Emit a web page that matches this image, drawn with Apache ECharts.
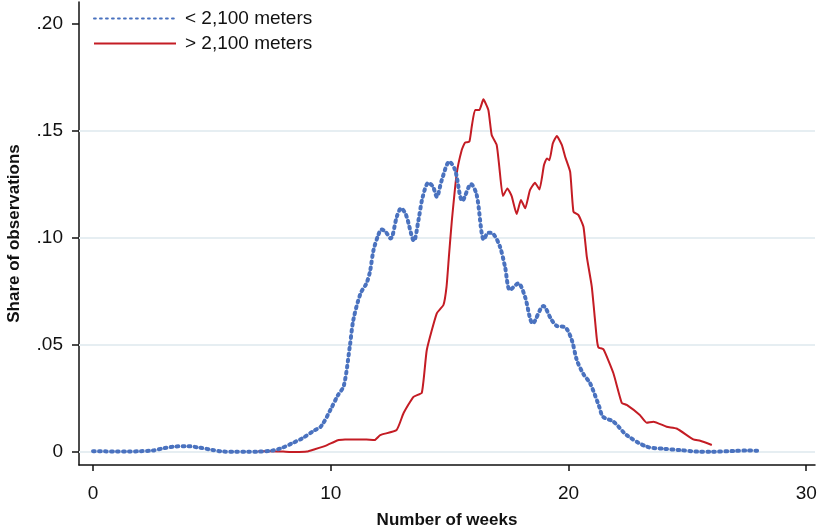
<!DOCTYPE html>
<html>
<head>
<meta charset="utf-8">
<script src="https://cdn.jsdelivr.net/npm/echarts@6/dist/echarts.min.js"></script>
<style>
  html, body { margin: 0; padding: 0; background: #fff; }
  #chart { width: 819px; height: 531px; }
</style>
</head>
<body>
<div id="chart"></div>
<script>
// share of observations by week
const lowWeeks = [0, 0.5, 1, 1.5, 2, 2.5, 3, 3.5, 4, 4.5, 5, 5.5, 6, 6.5, 7, 7.5, 7.9, 8.4, 8.8, 9.3, 9.6, 10.0, 10.3, 10.55, 10.8, 10.95, 11.25, 11.5, 11.65, 11.8, 12.0, 12.13, 12.3, 12.52, 12.78, 12.96, 13.17, 13.5, 13.69, 13.87, 14.11, 14.3, 14.46, 14.67, 14.99, 15.23, 15.54, 15.9, 16.14, 16.44, 16.63, 16.84, 17.12, 17.33, 17.54, 17.89, 18.17, 18.5, 18.94, 19.29, 19.51, 19.86, 20.14, 20.35, 20.63, 20.91, 21.3, 21.45, 21.89, 22.45, 23.29, 24.0, 24.69, 25.4, 26.0, 27.0, 27.5, 28.0];
const lowShare = [0.0004, 0.0003, 0.0002, 0.0002, 0.0004, 0.0007, 0.0018, 0.0026, 0.0027, 0.0020, 0.0010, 0.0002, 0.0001, 0.0001, 0.0002, 0.0006, 0.0017, 0.0042, 0.0064, 0.0100, 0.0121, 0.0200, 0.0265, 0.0310, 0.0492, 0.0617, 0.0740, 0.0788, 0.0843, 0.0944, 0.1014, 0.1040, 0.1030, 0.0998, 0.1100, 0.1139, 0.1107, 0.0987, 0.1084, 0.1193, 0.1258, 0.1240, 0.1193, 0.1271, 0.1357, 0.1318, 0.1174, 0.1252, 0.1201, 0.0993, 0.1025, 0.1019, 0.0959, 0.0866, 0.0757, 0.0788, 0.0726, 0.0601, 0.0682, 0.0617, 0.0589, 0.0583, 0.0523, 0.0430, 0.0364, 0.0321, 0.0210, 0.0165, 0.0142, 0.0079, 0.0025, 0.0015, 0.0009, 0.0002, 0.0001, 0.0005, 0.0007, 0.0006];

const highWeeks = [6.95, 7.5, 8.0, 8.5, 9.0, 9.3, 9.8, 10.3, 10.6, 11.0, 11.5, 11.85, 12.08, 12.77, 13.06, 13.48, 13.83, 14.04, 14.46, 14.74, 14.87, 14.97, 15.09, 15.3, 15.51, 15.65, 15.83, 15.93, 16.07, 16.25, 16.42, 16.63, 16.77, 16.98, 17.09, 17.24, 17.43, 17.61, 17.82, 18.0, 18.18, 18.38, 18.59, 18.78, 18.97, 19.09, 19.2, 19.34, 19.51, 19.72, 19.86, 20.07, 20.21, 20.42, 20.63, 20.77, 20.98, 21.19, 21.26, 21.47, 21.89, 22.24, 22.45, 23.0, 23.29, 23.57, 24.13, 24.55, 25.25, 25.54, 26.03];
const highShare = [0.0003, 0.0004, 0.0002, 0.0000, 0.0002, 0.0012, 0.0030, 0.0055, 0.0058, 0.0059, 0.0058, 0.0056, 0.0079, 0.0103, 0.0181, 0.0258, 0.0277, 0.0477, 0.0648, 0.0687, 0.0772, 0.0913, 0.1076, 0.1302, 0.1411, 0.1446, 0.1450, 0.1520, 0.1598, 0.1598, 0.1648, 0.1598, 0.1481, 0.1435, 0.1333, 0.1196, 0.1232, 0.1196, 0.1112, 0.1178, 0.1139, 0.1224, 0.1258, 0.1227, 0.1341, 0.1372, 0.1364, 0.1442, 0.1477, 0.1435, 0.1380, 0.1310, 0.1123, 0.1107, 0.1053, 0.0913, 0.0773, 0.0531, 0.0489, 0.0480, 0.0368, 0.0230, 0.0220, 0.0173, 0.0137, 0.0142, 0.0118, 0.0110, 0.0059, 0.0053, 0.0033];

const xTicks = [0, 10, 20, 30];
const yTicks = [0, 0.05, 0.10, 0.15, 0.20];
const gridValues = [0, 0.05, 0.10, 0.15];
const seriesNames = ['< 2,100 meters', '> 2,100 meters'];

const font = '"Liberation Sans Narrow", "Liberation Sans", Arial, sans-serif';

const pairs = (xs, ys) => xs.map((x, i) => [x, ys[i]]);
const fmtY = v => (v === 0 ? '0' : '.' + Math.round(v * 100).toString().padStart(2, '0'));

const chart = echarts.init(document.getElementById('chart'));
chart.setOption({
  animation: false,
  backgroundColor: '#fff',
  grid: { left: 79, right: 4, top: 2, bottom: 66, outerBoundsMode: 'none', containLabel: false },
  legend: {
    left: 88,
    top: 4,
    orient: 'vertical',
    itemWidth: 82,
    itemHeight: 10,
    itemGap: 6,
    itemStyle: { opacity: 0 },
    textStyle: { fontFamily: font, fontSize: 19, color: '#111', padding: [0, 0, 0, 4] },
    data: seriesNames
  },
  xAxis: {
    type: 'value',
    min: -0.59,
    max: 30.37,
    name: 'Number of weeks',
    nameLocation: 'middle',
    nameGap: 47,
    nameTextStyle: { fontFamily: font, fontSize: 17, fontWeight: 'bold', color: '#111' },
    axisLine: { show: true, onZero: false, lineStyle: { color: '#111', width: 1.5 } },
    axisTick: { show: true, length: 6, customValues: xTicks, lineStyle: { color: '#111', width: 1.5 } },
    axisLabel: { customValues: xTicks, margin: 19, fontFamily: font, fontSize: 19, color: '#111' },
    splitLine: { show: false }
  },
  yAxis: {
    type: 'value',
    min: -0.00607,
    max: 0.2103,
    name: 'Share of observations',
    nameLocation: 'middle',
    nameGap: 56,
    nameTextStyle: { fontFamily: font, fontSize: 17, fontWeight: 'bold', color: '#111' },
    axisLine: { show: true, onZero: false, lineStyle: { color: '#111', width: 1.5 } },
    axisTick: { show: true, length: 7, customValues: yTicks, lineStyle: { color: '#111', width: 1.5 } },
    axisLabel: { customValues: yTicks, margin: 16, fontFamily: font, fontSize: 19, color: '#111', formatter: fmtY },
    splitLine: { show: false }
  },
  series: [
    {
      name: seriesNames[0],
      type: 'line',
      data: pairs(lowWeeks, lowShare),
      smooth: 0.3,
      showSymbol: false,
      symbol: 'none',
      z: 3,
      itemStyle: { color: '#4a72bf' },
      lineStyle: { color: '#4a72bf', width: 4, type: [1.8, 4.2], cap: 'round' },
      markLine: {
        silent: true,
        symbol: 'none',
        label: { show: false },
        z: 1,
        lineStyle: { color: '#e6eef2', width: 2, type: 'solid' },
        data: gridValues.map(v => ({ yAxis: v }))
      }
    },
    {
      name: seriesNames[1],
      type: 'line',
      data: pairs(highWeeks, highShare),
      smooth: 0.15,
      showSymbol: false,
      symbol: 'none',
      z: 2,
      itemStyle: { color: '#c41c24' },
      lineStyle: { color: '#c41c24', width: 2 }
    }
  ]
});
</script>
</body>
</html>
